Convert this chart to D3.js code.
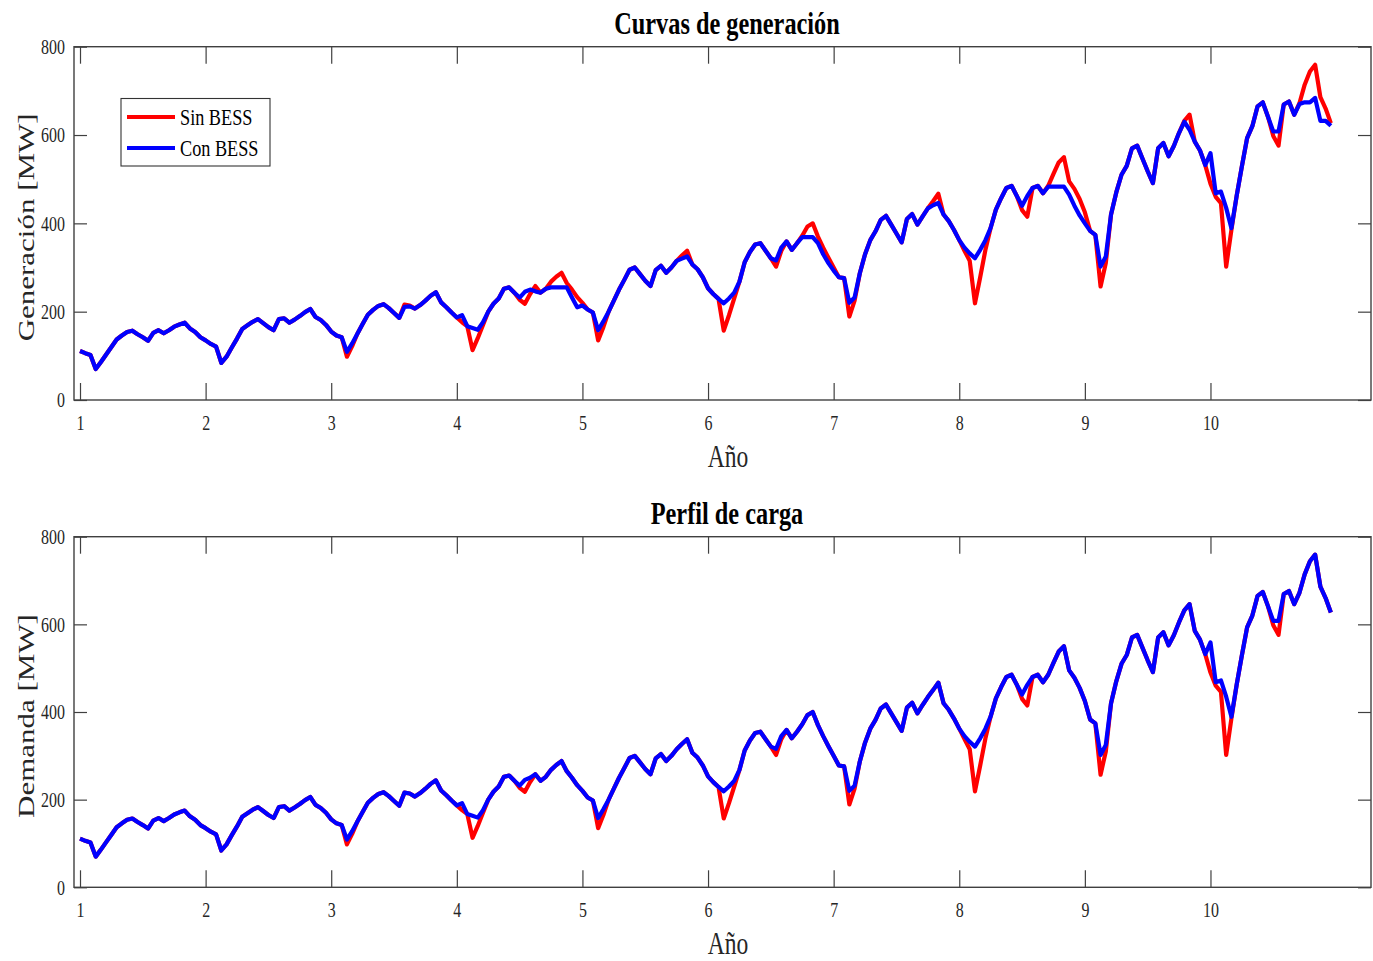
<!DOCTYPE html>
<html>
<head>
<meta charset="utf-8">
<script src="https://cdn.jsdelivr.net/npm/d3@7"></script>
<style>
  body { margin: 0; background: #fff; }
  svg { display: block; }
</style>
</head>
<body>
<svg id="chart" width="1373" height="961"></svg>
<script>
// años (ticks del eje x), cada fila = un año con 24 muestras
const anios = [1, 2, 3, 4, 5, 6, 7, 8, 9, 10]
const muestrasPorAnio = 24
const ticksY = [0, 200, 400, 600, 800]

// Sin BESS (igual en ambos paneles)
const sinBESS = [
  [111,106,102,70,86,103,120,137,146,154,157,149,142,134,152,158,151,158,166,171,175,162,154,142],
  [135,127,121,84,98,119,139,161,169,177,183,174,165,158,183,185,175,182,190,199,206,188,181,170],
  [155,146,142,98,122,150,172,193,204,213,217,208,197,186,216,214,207,215,225,236,244,221,210,198],
  [187,176,167,113,140,170,200,218,230,252,255,243,227,218,240,258,243,252,268,279,288,265,250,233],
  [220,205,198,135,165,200,225,250,272,295,300,285,270,258,294,304,288,300,315,327,338,307,296,278],
  [253,240,229,157,192,230,268,312,335,352,355,338,321,302,338,359,340,355,372,393,400,370,345,322],
  [300,278,276,189,225,287,330,362,382,408,417,397,377,357,410,421,397,416,434,450,467,420,405,385],
  [362,338,315,219,278,340,390,431,457,480,485,462,430,415,480,485,468,485,512,538,550,495,478,455],
  [425,383,374,257,310,420,470,510,530,570,576,547,518,491,570,582,552,575,605,632,646,585,565,532],
  [490,460,446,302,385,462,529,593,620,665,674,641,598,576,669,676,646,672,714,744,759,686,660,627]
]

// Con BESS - curva de generación
const genConBESS = [
  [111,106,102,70,86,103,120,137,146,154,157,149,142,134,152,158,151,158,166,171,175,162,154,142],
  [135,127,121,84,98,119,139,161,169,177,183,174,165,158,183,185,175,182,190,199,206,188,181,170],
  [155,146,142,109,128,150,172,193,204,213,217,208,197,186,211,212,207,215,225,236,244,221,210,198],
  [187,192,167,163,159,176,200,218,230,252,255,243,232,245,250,246,243,252,255,255,255,255,232,210],
  [214,205,198,158,178,200,225,250,272,295,300,285,270,258,294,304,288,300,315,320,325,307,296,278],
  [253,240,229,219,230,243,268,312,335,352,355,338,321,316,345,359,340,355,369,369,369,355,330,310],
  [293,278,276,220,232,287,330,362,382,408,417,397,377,357,410,421,397,416,434,441,446,420,405,385],
  [362,345,332,321,340,362,390,431,457,480,485,462,440,462,480,485,468,483,483,483,483,465,440,418],
  [400,383,374,302,325,420,470,510,530,570,576,547,518,491,570,582,552,575,605,630,612,585,565,532],
  [559,468,472,435,389,462,529,593,620,665,674,641,608,608,669,676,646,670,674,674,684,632,632,621]
]

// Con BESS - perfil de carga
const demConBESS = [
  [111,106,102,70,86,103,120,137,146,154,157,149,142,134,152,158,151,158,166,171,175,162,154,142],
  [135,127,121,84,98,119,139,161,169,177,183,174,165,158,183,185,175,182,190,199,206,188,181,170],
  [155,146,142,109,128,150,172,193,204,213,217,208,197,186,216,214,207,215,225,236,244,221,210,198],
  [187,192,167,163,159,176,200,218,230,252,255,243,232,245,250,258,243,252,268,279,288,265,250,233],
  [220,205,198,158,178,200,225,250,272,295,300,285,270,258,294,304,288,300,315,327,338,307,296,278],
  [253,240,229,219,230,243,268,312,335,352,355,338,321,316,345,359,340,355,372,393,400,370,345,322],
  [300,278,276,220,232,287,330,362,382,408,417,397,377,357,410,421,397,416,434,450,467,420,405,385],
  [362,345,332,321,340,362,390,431,457,480,485,462,440,462,480,485,468,485,512,538,550,495,478,455],
  [425,383,374,302,325,420,470,510,530,570,576,547,518,491,570,582,552,575,605,632,646,585,565,532],
  [559,468,472,435,389,462,529,593,620,665,674,641,608,608,669,676,646,672,714,744,759,686,660,627]
]

const serie = rows => rows.flatMap((row, i) => row.map((v, j) => ({ x: anios[i] + j / muestrasPorAnio, y: v })))

const svg = d3.select('#chart')
const SX = 0.76   // la figura original esta comprimida en horizontal
const fuente = '"Liberation Serif", "Times New Roman", serif'
const gris = '#262626'
const grosor = 4.2

function texto(g, x, y, txt, size, opts = {}) {
  g.append('g')
    .attr('transform', `translate(${x},${y}) scale(${SX},1)` + (opts.rot ? ` rotate(${opts.rot})` : ''))
    .append('text')
    .attr('text-anchor', opts.anchor || 'middle')
    .style('font-family', fuente)
    .style('font-size', size + 'px')
    .style('font-weight', opts.bold ? 'bold' : 'normal')
    .style('fill', opts.color || '#000')
    .text(txt)
}

const left = 74, right = 1371
const x = d3.scaleLinear().domain([0.9522, 11.278]).range([left, right])

function panel(cfg) {
  const y = d3.scaleLinear().domain([0, 800]).range([cfg.bottom, cfg.top])
  const g = svg.append('g')

  const line = d3.line().x(d => x(d.x)).y(d => y(d.y))

  g.append('path').datum(serie(sinBESS))
    .attr('d', line).attr('fill', 'none').attr('stroke', '#ff0000')
    .attr('stroke-width', grosor).attr('stroke-linejoin', 'round')
  g.append('path').datum(serie(cfg.conBESS))
    .attr('d', line).attr('fill', 'none').attr('stroke', '#0000ff')
    .attr('stroke-width', grosor).attr('stroke-linejoin', 'round')

  // ejes tipo matlab, ticks hacia dentro
  const axB = g.append('g').attr('transform', `translate(0,${cfg.bottom})`)
    .call(d3.axisBottom(x).tickValues(anios).tickSize(-17).tickPadding(15))
  const axT = g.append('g').attr('transform', `translate(0,${cfg.top})`)
    .call(d3.axisTop(x).tickValues(anios).tickSize(-17).tickFormat(''))
  const axL = g.append('g').attr('transform', `translate(${left},0)`)
    .call(d3.axisLeft(y).tickValues(ticksY).tickSize(-13).tickPadding(10))
  const axR = g.append('g').attr('transform', `translate(${right},0)`)
    .call(d3.axisRight(y).tickValues(ticksY).tickSize(-13).tickFormat(''))

  ;[axB, axT, axL, axR].forEach(a => {
    a.select('.domain').remove()
    a.selectAll('line').attr('stroke', '#404040').attr('stroke-width', 1.2)
    a.selectAll('text')
      .style('font-family', fuente).style('font-size', '21px').style('fill', gris)
      .attr('transform', `scale(${SX},1)`)
  })
  // compensa la escala horizontal en las etiquetas del eje y
  axL.selectAll('text').attr('x', -9 / SX)

  g.append('rect')
    .attr('x', left).attr('y', cfg.top)
    .attr('width', right - left).attr('height', cfg.bottom - cfg.top)
    .attr('fill', 'none').attr('stroke', '#404040').attr('stroke-width', 1.4)

  texto(g, 727, cfg.top - 13, cfg.titulo, 32, { bold: true })
  texto(g, 728, cfg.bottom + 67, 'Año', 31, { color: gris })
  texto(g, 34, (cfg.top + cfg.bottom) / 2 + 4, cfg.ylabel, 31, { rot: -90, color: gris })
  return { g, y }
}

const p1 = panel({ top: 46.7, bottom: 400, titulo: 'Curvas de generación', ylabel: 'Generación [MW]', conBESS: genConBESS })
panel({ top: 536.7, bottom: 887.3, titulo: 'Perfil de carga', ylabel: 'Demanda [MW]', conBESS: demConBESS })

// leyenda
const leg = p1.g.append('g')
leg.append('rect').attr('x', 121).attr('y', 98.5).attr('width', 149).attr('height', 67.5)
  .attr('fill', '#fff').attr('stroke', '#333').attr('stroke-width', 1.1)
const items = [['Sin BESS', '#ff0000'], ['Con BESS', '#0000ff']]
items.forEach((it, i) => {
  const yy = 117 + i * 31
  leg.append('line').attr('x1', 127).attr('x2', 175).attr('y1', yy).attr('y2', yy)
    .attr('stroke', it[1]).attr('stroke-width', grosor)
  texto(leg, 180, yy + 8, it[0], 24, { anchor: 'start' })
})
</script>
</body>
</html>
